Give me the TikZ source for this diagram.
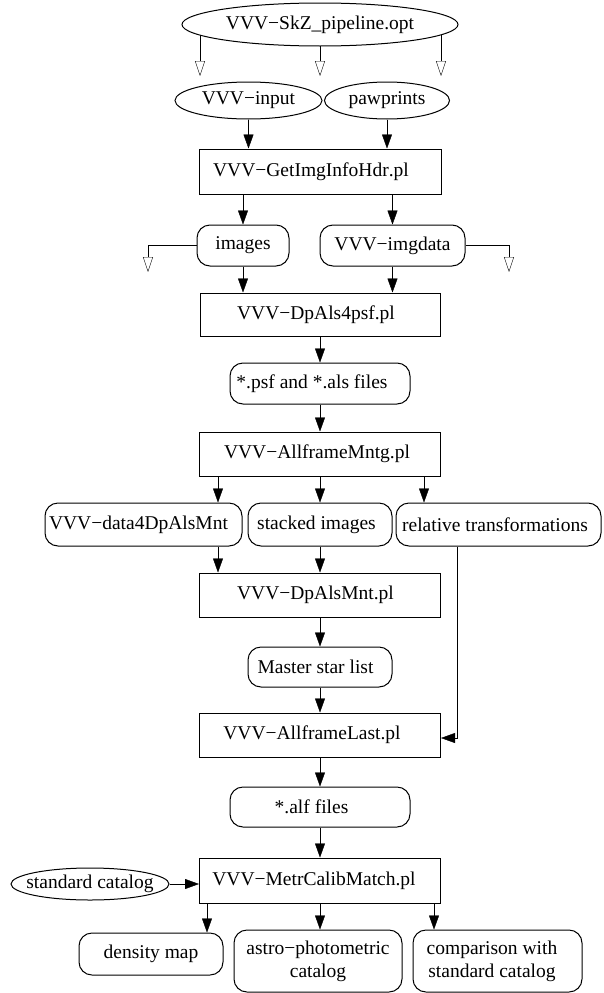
\documentclass[tikz,border=0pt]{standalone}
\usepackage{fontspec}
\setmainfont{Liberation Serif}[Kerning=Off]
\usetikzlibrary{arrows.meta,calc,shapes.geometric}
\pgfdeclarelayer{background}
\pgfsetlayers{background,main}

\begin{document}
\begin{tikzpicture}[x=1pt,y=-1pt,line width=1pt,
  font=\fontsize{19.5}{23}\selectfont,
  every node/.style={inner sep=0pt, align=center},
  prog/.style={draw, rectangle, minimum width=241pt, minimum height=44pt},
  data/.style={draw, rounded corners=13pt, minimum height=41pt},
  ext/.style={draw, ellipse},
  lpad/.style={execute at end node={\hspace*{#1}}},
  flow/.style={-{Triangle[length=14pt,width=10pt]}},
  loose/.style={-{Triangle[open,length=15pt,width=10pt]}}]

\useasboundingbox (0,0) rectangle (603,993);

% inputs
\node[ext, fill=white, minimum width=276pt, minimum height=43pt] (opt) at (320,24.5) {VVV−SkZ\_pipeline.opt};
\node[ext, minimum width=147pt, minimum height=37pt] (vin) at (248.5,100.5) {VVV−input};
\node[ext, minimum width=125pt, minimum height=37pt] (paw) at (387,100.5) {pawprints};

% pipeline stages and products
\node[prog, lpad=18pt, minimum width=242pt, minimum height=45pt] (hdr) at (320,171.5) {VVV−GetImgInfoHdr.pl};
\node[data, minimum width=92pt] (img) at (243,245.5) {images};
\node[data, minimum width=145pt] (imd) at (392.5,245.5) {VVV−imgdata};
\node[prog, lpad=8pt, minimum width=240pt, minimum height=43pt] (psf) at (320,314.5) {VVV−DpAls4psf.pl};
\node[data, lpad=16pt, minimum width=180pt] (als) at (320,383.5) {*.psf and *.als files};
\node[prog, lpad=6pt] (mntg) at (320,454) {VVV−AllframeMntg.pl};
\node[data, lpad=10pt, minimum width=197pt, minimum height=43pt] (d4) at (143.5,524.5) {VVV−data4DpAlsMnt};
\node[data, lpad=7pt, minimum width=144pt, minimum height=43pt] (stk) at (320,524.5) {stacked images};
\node[data, lpad=7pt, minimum width=205pt, minimum height=43pt] (rel) at (498.5,524.5) {relative transformations};
\node[prog, lpad=9pt] (dpm) at (320,595) {VVV−DpAlsMnt.pl};
\node[data, lpad=9pt, minimum width=144pt, minimum height=40pt] (msl) at (320,667) {Master star list};
\node[prog, lpad=16pt] (last) at (320,735) {VVV−AllframeLast.pl};
\node[data, lpad=17pt, minimum width=180pt, minimum height=40pt] (alf) at (320,807) {*.alf files};
\node[prog, lpad=12pt, minimum height=45pt] (cal) at (320,880.5) {VVV−MetrCalibMatch.pl};
\node[ext, inner xsep=-12pt, minimum width=158pt, minimum height=32pt] (std) at (90,884) {standard catalog};
\node[data, minimum width=144pt, minimum height=42pt] (den) at (151,954) {density map};
\node[data, minimum width=168pt, minimum height=62pt] (ast) at (318,961) {astro−photometric\\catalog};
\node[data, minimum width=169pt, minimum height=62pt] (cmp) at (497.5,961) {comparison with\hspace*{11pt}\\standard catalog\hspace*{11pt}};

% free ends and off-centre connector columns
\coordinate (o1) at (200,76);
\coordinate (o2) at (320,76);
\coordinate (o3) at (441,76);
\coordinate (l1) at (148,272);
\coordinate (r1) at (509,272);
\coordinate (xa) at (218,0);
\coordinate (xb) at (424,0);
\coordinate (xc) at (457,0);
\coordinate (xd) at (207,0);
\coordinate (xf) at (434,0);

\begin{pgfonlayer}{background}
  \draw[loose] (opt.center -| o1) -- (o1);
  \draw[loose] (opt.center -| o2) -- (o2);
  \draw[loose] (opt.center -| o3) -- (o3);
\end{pgfonlayer}

\draw[flow] (vin.south) -- (vin.south |- hdr.north);
\draw[flow] (paw.south) -- (paw.south |- hdr.north);
\draw[flow] (hdr.south -| img.north) -- (img.north);
\draw[flow] (hdr.south -| imd.north) -- (imd.north);
\draw[loose] (img.west) -| (l1);
\draw[loose] (imd.east) -| (r1);
\draw[flow] (img.south) -- (img.south |- psf.north);
\draw[flow] (imd.south) -- (imd.south |- psf.north);
\draw[flow] (psf.south) -- (als.north);
\draw[flow] (als.south) -- (mntg.north);
\draw[flow] (mntg.south -| xa) -- (d4.north -| xa);
\draw[flow] (mntg.south) -- (stk.north);
\draw[flow] (mntg.south -| xb) -- (rel.north -| xb);
\draw[flow] (d4.south -| xa) -- (dpm.north -| xa);
\draw[flow] (stk.south) -- (dpm.north);
\draw[flow] (rel.south -| xc) |- ($(last.east)+(0,3)$);
\draw[flow] (dpm.south) -- (msl.north);
\draw[flow] (msl.south) -- (last.north);
\draw[flow] (last.south) -- (alf.north);
\draw[flow] (alf.south) -- (cal.north);
\draw[flow] (std.east) -- (std.east -| cal.west);
\draw[flow] (cal.south -| xd) -- (den.north -| xd);
\draw[flow] (cal.south) -- (cal.south |- ast.north);
\draw[flow] (cal.south -| xf) -- (cmp.north -| xf);

\end{tikzpicture}
\end{document}
